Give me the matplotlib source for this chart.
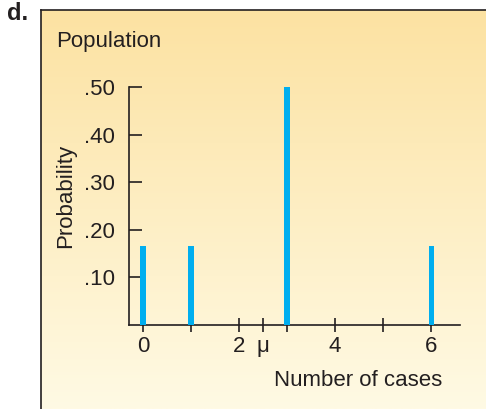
#!/usr/bin/env python
# -*- coding: utf-8 -*-

# Third party modules.
import numpy as np
import matplotlib
matplotlib.use("Agg")
import matplotlib.pyplot as plt

# Globals and constants variables.
cases = [0, 1, 3, 6]
probabilities = [1 / 6, 1 / 6, 1 / 2, 1 / 6]
x_ticks = [0, 1, 2, 2.5, 3, 4, 5, 6]
x_tick_labels = ["0", "", "2", "\u03bc", "", "4", "", "6"]
y_ticks = [0.10, 0.20, 0.30, 0.40, 0.50]
y_tick_labels = [".10", ".20", ".30", ".40", ".50"]

TEXT_COLOR = "#231f20"
BAR_COLOR = "#00aeef"
FS = 16


def run():
    plt.rcParams["font.family"] = ["Liberation Sans", "DejaVu Sans"]
    fig = plt.figure(figsize=(4.86, 4.09), dpi=100)

    # gradient panel
    bg = fig.add_axes([41 / 486, 0, 1 - 41 / 486, 1 - 10 / 409])
    top = np.array([252, 226, 162]) / 255
    bottom = np.array([255, 250, 228]) / 255
    t = np.linspace(0, 1, 256)[:, None]
    grad = top * (1 - t[..., None]) + bottom * t[..., None]
    bg.imshow(grad, aspect="auto", extent=[0, 1, 0, 1])
    bg.set_xticks([])
    bg.set_yticks([])
    for side in ["right", "bottom"]:
        bg.spines[side].set_visible(False)
    for side in ["left", "top"]:
        bg.spines[side].set_linewidth(1.2)
        bg.spines[side].set_color(TEXT_COLOR)

    ax = fig.add_axes([129 / 486, 1 - 325 / 409, (460 - 129) / 486, (325 - 87) / 409])
    ax.patch.set_visible(False)
    ax.bar(cases, probabilities, width=0.11, color=BAR_COLOR, zorder=3)
    ax.set_xlim(-0.29, 6.6)
    ax.set_ylim(0, 0.5)
    for side in ["right", "top"]:
        ax.spines[side].set_visible(False)
    for side in ["left", "bottom"]:
        ax.spines[side].set_linewidth(1.2)
        ax.spines[side].set_color(TEXT_COLOR)

    ax.set_xticks(x_ticks)
    ax.set_xticklabels(x_tick_labels)
    ax.set_yticks(y_ticks)
    ax.set_yticklabels(y_tick_labels)
    ax.tick_params(axis="x", direction="inout", length=10, width=1.2,
                   color=TEXT_COLOR, labelsize=FS, labelcolor=TEXT_COLOR, pad=3)
    ax.tick_params(axis="y", direction="in", length=9, width=1.2,
                   color=TEXT_COLOR, labelsize=FS, labelcolor=TEXT_COLOR, pad=10)

    fig.text(56 / 486, 1 - 42 / 409, "Population", fontsize=FS,
             color=TEXT_COLOR, ha="left", va="center")
    fig.text(66 / 486, 1 - 196 / 409, "Probability", fontsize=FS,
             color=TEXT_COLOR, ha="center", va="center", rotation=90)
    fig.text(442 / 486, 1 - 381 / 409, "Number of cases", fontsize=FS,
             color=TEXT_COLOR, ha="right", va="center")
    fig.text(7 / 486, 1 - 14 / 409, "d.", fontsize=17, fontweight="bold",
             color=TEXT_COLOR, ha="left", va="center")

    fig.savefig("out.png", dpi=100)


def main():
    run()


if __name__ == '__main__':
    main()
